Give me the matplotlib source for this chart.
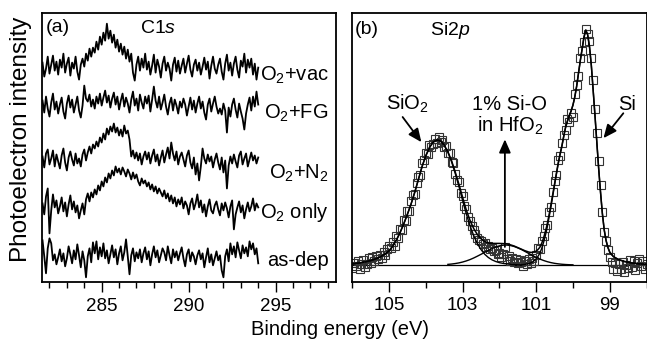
import matplotlib.pyplot as plt

plt.rcParams['font.family'] = ['Liberation Sans', 'DejaVu Sans']
plt.rcParams['mathtext.fontset'] = 'custom'
plt.rcParams['mathtext.rm'] = 'Liberation Sans'
plt.rcParams['mathtext.it'] = 'Liberation Sans:italic'

# ---- panel (a): C 1s spectra, binding energy in eV ----
c1s_energy = [
    281.6, 281.7, 281.8, 281.9, 282.0, 282.1, 282.2, 282.3, 282.4, 282.5,
    282.6, 282.7, 282.8, 282.9, 283.0, 283.1, 283.2, 283.3, 283.4, 283.5,
    283.6, 283.7, 283.8, 283.9, 284.0, 284.1, 284.2, 284.3, 284.4, 284.5,
    284.6, 284.7, 284.8, 284.9, 285.0, 285.1, 285.2, 285.3, 285.4, 285.5,
    285.6, 285.7, 285.8, 285.9, 286.0, 286.1, 286.2, 286.3, 286.4, 286.5,
    286.6, 286.7, 286.8, 286.9, 287.0, 287.1, 287.2, 287.3, 287.4, 287.5,
    287.6, 287.7, 287.8, 287.9, 288.0, 288.1, 288.2, 288.3, 288.4, 288.5,
    288.6, 288.7, 288.8, 288.9, 289.0, 289.1, 289.2, 289.3, 289.4, 289.5,
    289.6, 289.7, 289.8, 289.9, 290.0, 290.1, 290.2, 290.3, 290.4, 290.5,
    290.6, 290.7, 290.8, 290.9, 291.0, 291.1, 291.2, 291.3, 291.4, 291.5,
    291.6, 291.7, 291.8, 291.9, 292.0, 292.1, 292.2, 292.3, 292.4, 292.5,
    292.6, 292.7, 292.8, 292.9, 293.0, 293.1, 293.2, 293.3, 293.4, 293.5,
    293.6, 293.7, 293.8, 293.9, 294.0]

# intensities already offset for stacking (arb. units)
o2_vac = [
    22.0, 20.6, 21.4, 22.6, 20.9, 21.8, 22.7, 21.2, 22.1, 20.8,
    22.3, 21.5, 22.9, 21.0, 21.9, 22.5, 20.7, 22.0, 21.4, 22.6,
    21.1, 20.3, 21.8, 22.4, 21.6, 22.9, 22.2, 23.4, 22.6, 23.5,
    23.0, 24.1, 23.3, 24.6, 23.8, 25.0, 24.2, 25.9, 24.4, 25.2,
    24.0, 24.8, 23.5, 24.3, 23.1, 23.9, 22.8, 23.6, 22.4, 23.3,
    22.1, 22.9, 21.0, 20.2, 21.8, 22.6, 21.2, 22.4, 21.5, 22.9,
    21.3, 22.1, 20.8, 21.7, 22.8, 21.0, 22.3, 21.6, 20.5, 21.9,
    22.6, 21.2, 22.0, 21.4, 20.2, 21.8, 22.5, 21.1, 22.2, 20.9,
    21.7, 22.4, 21.0, 21.9, 22.7, 21.3, 20.6, 21.8, 22.3, 21.2,
    22.0, 20.8, 21.6, 22.5, 21.3, 22.1, 20.4, 21.7, 22.6, 21.4,
    20.9, 21.8, 22.4, 21.1, 20.3, 21.9, 22.8, 21.2, 22.0, 20.7,
    21.9, 22.6, 21.3, 20.5, 22.2, 21.6, 22.9, 21.0, 22.3, 21.5,
    22.4, 20.8, 21.9, 20.3, 21.5]
o2_fg = [
    18.2, 17.0, 18.6, 17.4, 16.6, 18.0, 18.9, 17.3, 18.1, 16.9,
    17.8, 18.5, 17.1, 16.4, 17.9, 18.7, 17.5, 18.3, 17.0, 17.8,
    18.6, 17.2, 16.5, 17.7, 19.7, 18.4, 18.1, 18.8, 17.6, 18.3,
    17.4, 18.6, 17.9, 18.9, 17.7, 18.5, 19.2, 18.0, 18.7, 17.5,
    18.4, 19.0, 17.8, 18.6, 17.3, 18.2, 18.9, 17.6, 18.5, 17.9,
    17.0, 18.3, 19.1, 17.7, 18.4, 17.2, 18.8, 18.0, 17.4, 18.6,
    17.9, 18.7, 17.1, 18.3, 19.6, 18.2, 17.5, 18.6, 17.3, 18.0,
    18.8, 17.6, 16.8, 17.9, 18.5, 17.2, 18.3, 17.7, 16.9, 18.1,
    17.5, 18.4, 17.8, 16.7, 17.6, 18.5, 17.3, 18.2, 17.0, 17.9,
    18.6, 17.4, 18.1, 17.0, 16.3, 17.8, 18.4, 17.1, 17.9, 18.6,
    17.6, 16.9, 17.4, 16.8, 17.9, 17.2, 15.0, 17.5, 16.6, 17.8,
    18.4, 17.3, 16.5, 17.9, 17.1, 16.4, 15.3, 16.9, 17.8, 18.5,
    17.2, 18.6, 17.6, 19.1, 17.8]
o2_n2 = [
    12.6, 11.5, 12.9, 13.3, 11.8, 12.4, 13.2, 11.6, 12.8, 12.1,
    11.4, 12.7, 13.4, 12.0, 11.2, 12.5, 13.1, 12.3, 11.7, 12.9,
    11.9, 12.4, 11.6, 12.8, 13.3, 12.2, 13.0, 13.6, 12.9, 13.8,
    13.4, 14.1, 13.6, 14.5, 14.0, 14.9, 14.3, 15.4, 14.8, 15.6,
    15.1, 15.9, 15.0, 15.5, 14.7, 15.3, 14.6, 15.7, 14.9, 15.2,
    14.3, 12.6, 13.2, 12.4, 13.0, 12.2, 12.9, 11.8, 12.6, 13.1,
    12.3, 13.0, 11.9, 12.7, 13.3, 12.1, 12.8, 11.7, 12.5, 13.2,
    12.0, 12.8, 13.5, 12.4, 14.0, 12.9, 12.2, 13.1, 11.8, 12.6,
    13.0, 12.3, 11.6, 12.7, 13.2, 12.0, 11.4, 12.5, 10.8, 11.9,
    10.2, 11.6, 13.4, 12.4, 11.9, 12.8, 12.1, 12.6, 11.5, 12.3,
    12.9, 12.0, 11.3, 12.5, 11.0, 12.2, 9.4, 11.7, 12.6, 11.9,
    12.8, 12.1, 11.5, 12.7, 13.1, 11.8, 12.4, 12.9, 11.6, 12.3,
    13.0, 12.2, 12.7, 11.9, 12.5]
o2_only = [
    7.9, 6.8, 8.6, 9.4, 4.9, 7.2, 8.8, 7.5, 8.2, 6.9,
    7.6, 8.5, 7.1, 8.0, 6.6, 7.8, 8.7, 7.3, 8.1, 7.0,
    7.7, 6.4, 7.2, 7.9, 6.8, 8.3, 8.9, 8.1, 9.0, 8.5,
    9.3, 8.8, 9.7, 9.2, 10.1, 9.6, 10.5, 10.0, 10.9, 10.4,
    11.2, 10.7, 11.6, 11.0, 11.4, 10.8, 11.5, 11.1, 10.6, 11.3,
    10.9, 10.3, 11.0, 10.4, 10.8, 10.1, 9.7, 10.4, 9.9, 10.2,
    9.6, 10.0, 9.3, 9.8, 9.1, 9.6, 8.9, 9.4, 9.0, 8.6,
    9.2, 8.4, 8.9, 8.1, 8.7, 7.9, 8.5, 7.6, 8.3, 7.8,
    8.5, 7.4, 8.1, 7.7, 6.8, 7.9, 8.4, 7.3, 7.9, 8.8,
    7.5, 8.2, 7.0, 7.8, 6.6, 7.6, 8.3, 7.2, 6.9, 7.7,
    8.1, 7.3, 6.7, 7.9, 7.2, 8.0, 7.4, 6.5, 7.6, 8.2,
    5.3, 6.8, 7.5, 8.1, 7.0, 7.7, 6.4, 7.3, 8.0, 7.1,
    7.6, 8.4, 7.2, 7.9, 7.5]
as_dep = [
    4.2, 2.6, 0.9, 3.4, 4.4, 3.9, 2.2, 2.8, 1.8, 2.5,
    3.3, 2.1, 2.9, 1.6, 2.4, 3.6, 2.8, 1.9, 3.2, 2.3,
    3.8, 2.7, 1.5, 3.1, 2.2, 0.5, 2.6, 3.4, 2.0, 4.0,
    2.9, 4.1, 2.3, 3.5, 2.6, 3.9, 2.4, 3.2, 1.9, 2.8,
    3.7, 2.5, 3.3, 1.8, 2.9, 3.6, 2.2, 3.0, 4.3, 2.6,
    0.8, 2.7, 3.4, 2.1, 3.0, 2.4, 3.3, 2.0, 2.9, 3.5,
    2.3, 3.1, 1.7, 2.8, 3.6, 2.5, 3.2, 2.0, 2.7, 3.4,
    3.0, 2.2, 3.6, 2.7, 1.9, 3.3, 2.5, 3.1, 2.2, 2.9,
    3.5, 2.4, 1.6, 2.8, 3.3, 2.1, 3.0, 2.6, 1.8, 2.7,
    3.2, 2.3, 2.9, 1.5, 2.5, 3.4, 2.0, 2.8, 1.7, 2.4,
    3.1, 2.2, 2.7, 1.2, 0.5, 2.6, 3.3, 2.1, 3.9, 2.8,
    3.6, 2.5, 4.0, 3.2, 2.4, 3.7, 2.9, 3.5, 2.6, 4.1,
    3.3, 3.9, 2.8, 3.4, 1.9]

c1s_traces = [o2_vac, o2_fg, o2_n2, o2_only, as_dep]
c1s_labels = ['O$_2$+vac', 'O$_2$+FG', 'O$_2$+N$_2$', 'O$_2$ only', 'as-dep']

# ---- panel (b): Si 2p spectrum, binding energy in eV ----
si2p_energy = [
    106.00, 105.95, 105.90, 105.85, 105.80, 105.75, 105.70, 105.65, 105.60, 105.55,
    105.50, 105.45, 105.40, 105.35, 105.30, 105.25, 105.20, 105.15, 105.10, 105.05,
    105.00, 104.95, 104.90, 104.85, 104.80, 104.75, 104.70, 104.65, 104.60, 104.55,
    104.50, 104.45, 104.40, 104.35, 104.30, 104.25, 104.20, 104.15, 104.10, 104.05,
    104.00, 103.95, 103.90, 103.85, 103.80, 103.75, 103.70, 103.65, 103.60, 103.55,
    103.50, 103.45, 103.40, 103.35, 103.30, 103.25, 103.20, 103.15, 103.10, 103.05,
    103.00, 102.95, 102.90, 102.85, 102.80, 102.75, 102.70, 102.65, 102.60, 102.55,
    102.50, 102.45, 102.40, 102.35, 102.30, 102.25, 102.20, 102.15, 102.10, 102.05,
    102.00, 101.95, 101.90, 101.85, 101.80, 101.75, 101.70, 101.65, 101.60, 101.55,
    101.50, 101.45, 101.40, 101.35, 101.30, 101.25, 101.20, 101.15, 101.10, 101.05,
    101.00, 100.95, 100.90, 100.85, 100.80, 100.75, 100.70, 100.65, 100.60, 100.55,
    100.50, 100.45, 100.40, 100.35, 100.30, 100.25, 100.20, 100.15, 100.10, 100.05,
    100.00, 99.95, 99.90, 99.85, 99.80, 99.75, 99.70, 99.65, 99.60, 99.55,
    99.50, 99.45, 99.40, 99.35, 99.30, 99.25, 99.20, 99.15, 99.10, 99.05,
    99.00, 98.95, 98.90, 98.85, 98.80, 98.75, 98.70, 98.65, 98.60, 98.55,
    98.50, 98.45, 98.40, 98.35, 98.30, 98.25, 98.20, 98.15, 98.10, 98.05,
    98.00]

si2p_data = [
    -1.2, 0.8, -0.5, 1.6, -1.8, 0.4, 2.2, -0.9, 0.6, 2.9,
    1.0, 3.3, 1.6, 3.9, 2.4, 4.2, 3.0, 5.6, 4.1, 6.9,
    8.2, 7.4, 9.6, 8.3, 12.4, 11.5, 15.2, 14.8, 19.0, 18.6,
    22.9, 23.1, 27.4, 29.6, 30.2, 35.0, 37.6, 38.5, 43.4, 44.9,
    47.8, 47.2, 50.9, 50.3, 51.6, 53.8, 52.0, 54.4, 52.5, 53.3,
    50.1, 50.8, 47.6, 47.5, 43.8, 43.3, 38.9, 36.1, 35.2, 30.7,
    29.4, 25.2, 23.9, 20.4, 18.6, 16.5, 14.8, 13.1, 11.7, 10.6,
    10.1, 8.9, 9.2, 7.8, 8.3, 6.9, 7.4, 5.8, 6.5, 4.6,
    5.3, 3.4, 4.8, 7.6, 2.7, 3.9, 1.8, 3.0, 1.2, 2.6,
    0.8, 2.2, 1.1, -0.6, 1.9, 0.4, 2.4, 0.9, 3.1, 1.5,
    4.3, 7.1, 6.8, 10.4, 12.5, 15.8, 17.0, 22.6, 24.8, 31.2,
    35.6, 38.3, 44.7, 46.4, 51.9, 55.4, 57.6, 62.3, 60.7, 64.8,
    62.9, 73.0, 76.7, 80.4, 88.2, 91.1, 95.0, 100.6, 98.4, 95.3,
    88.0, 78.6, 66.2, 56.4, 44.1, 34.2, 22.6, 14.1, 10.3, 6.4,
    3.6, 1.2, -1.6, 0.9, -2.4, 0.3, -1.7, 1.4, -2.8, 0.1,
    -1.2, 2.0, -0.8, 1.5, -2.1, 0.7, 2.4, -0.4, 1.8, -1.5,
    0.6]

si2p_fit_total = [
    0.5, 0.6, 0.7, 0.8, 0.9, 1.05, 1.2, 1.35, 1.5, 1.7,
    1.9, 2.15, 2.4, 2.7, 3.0, 3.4, 3.8, 4.3, 4.8, 5.4,
    6.0, 7.0, 8.0, 9.3, 10.6, 12.2, 13.8, 15.6, 17.5, 19.5,
    21.6, 23.8, 26.0, 28.5, 31.0, 33.7, 36.5, 39.2, 42.0, 44.3,
    46.5, 48.3, 50.0, 51.2, 52.3, 52.8, 53.2, 53.1, 52.8, 52.0,
    51.0, 49.6, 48.3, 46.4, 44.4, 42.0, 39.6, 37.0, 34.4, 31.6,
    28.8, 26.1, 23.5, 21.3, 19.1, 17.3, 15.6, 14.3, 13.0, 12.1,
    11.2, 10.6, 10.0, 9.7, 9.4, 9.3, 9.2, 9.2, 9.2, 9.2,
    9.2, 9.15, 9.1, 9.05, 9.0, 8.8, 8.6, 8.35, 8.1, 7.75,
    7.4, 7.05, 6.7, 6.4, 6.05, 5.8, 5.5, 5.4, 5.35, 5.6,
    5.9, 6.6, 7.55, 9.2, 11.4, 14.2, 17.4, 21.3, 25.5, 30.0,
    34.7, 39.1, 43.5, 47.3, 50.8, 54.9, 58.7, 61.3, 63.6, 65.6,
    68.1, 71.5, 76.0, 81.5, 87.0, 92.0, 97.0, 100.0, 98.0, 93.0,
    85.0, 74.5, 63.5, 52.0, 41.0, 31.0, 22.0, 15.0, 10.5, 7.5,
    5.5, 4.5, 3.6, 3.1, 2.7, 2.3, 2.0, 1.75, 1.5, 1.35,
    1.2, 1.05, 0.9, 0.8, 0.7, 0.6, 0.5, 0.45, 0.4, 0.35,
    0.3]

# SiO2 component, 106.0 -> 101.4 eV every 0.1 eV
fit_sio2 = [
    0.5, 0.7, 0.9, 1.2, 1.5, 1.9, 2.4, 3.0, 3.8, 4.8,
    6.0, 8.0, 10.6, 13.8, 17.5, 21.6, 26.0, 31.0, 36.5, 42.0,
    46.5, 50.0, 52.3, 53.2, 52.8, 51.0, 48.0, 44.0, 39.0, 33.5,
    27.5, 21.8, 16.8, 12.6, 9.2, 6.6, 4.6, 3.2, 2.2, 1.5,
    1.0, 0.7, 0.5, 0.3, 0.2, 0.1, 0.0]

# Si-O in HfO2 component, 103.4 -> 100.0 eV every 0.1 eV
fit_sio_hfo2 = [
    0.27, 0.42, 0.63, 0.9, 1.27, 1.74, 2.3, 2.98, 3.75, 4.55,
    5.4, 6.2, 7.0, 7.66, 8.16, 8.44, 8.49, 8.3, 7.9, 7.3,
    6.6, 5.75, 4.9, 4.05, 3.26, 2.55, 1.94, 1.43, 1.03, 0.72,
    0.5, 0.33, 0.21, 0.13, 0.08]

# Si substrate component, 101.4 -> 98.0 eV every 0.05 eV
fit_si = [
    0.1, 0.2, 0.3, 0.45, 0.6, 0.9, 1.3, 1.9, 2.6, 3.7,
    5.0, 7.0, 9.5, 12.5, 16.0, 20.2, 24.5, 29.2, 34.0, 38.6,
    43.0, 46.9, 50.5, 54.7, 58.5, 61.2, 63.5, 65.5, 68.0, 71.5,
    76.0, 81.5, 87.0, 92.0, 97.0, 100.0, 98.0, 93.0, 85.0, 74.5,
    63.5, 52.0, 41.0, 31.0, 22.0, 15.0, 10.5, 7.5, 5.5, 4.5,
    3.6, 3.1, 2.7, 2.3, 2.0, 1.75, 1.5, 1.35, 1.2, 1.05,
    0.9, 0.8, 0.7, 0.6, 0.5, 0.45, 0.4, 0.35, 0.3]


W, H = 647.0, 341.0
fig = plt.figure(figsize=(W / 100, H / 100), dpi=100)

ax1 = fig.add_axes([42 / W, (H - 282.3) / H, (336 - 42) / W, (282.3 - 12.7) / H])
ax2 = fig.add_axes([351.5 / W, (H - 281.7) / H, (646.5 - 351.5) / W, (281.7 - 12.7) / H])

# panel (a)
for trace in c1s_traces:
    ax1.plot(c1s_energy, trace, color='k', lw=1.3)

label_y = [20.2, 16.4, 10.4, 6.4, 1.6]
for lab, y in zip(c1s_labels, label_y):
    ax1.text(298.05, y, lab, ha='right', va='baseline', fontsize=14.5)

ax1.text(0.014, 0.93, '(a)', transform=ax1.transAxes, fontsize=14, va='baseline')
ax1.text(0.333, 0.924, r'C$\mathit{1s}$', transform=ax1.transAxes, fontsize=14, va='baseline')

ax1.set_xlim(281.57, 298.47)
ax1.set_ylim(0, 27)
ax1.set_xticks([285, 290, 295])
ax1.set_xticks(list(range(282, 299)), minor=True)
ax1.set_yticks([])

# panel (b)
ax2.axhline(0, color='k', lw=0.9, zorder=1)
ax2.plot(si2p_energy, si2p_data, 's', ms=6, mfc='none', mec='#333333', mew=0.8, zorder=2)
ax2.plot(si2p_energy[0:93:2], fit_sio2, color='k', lw=1.0, zorder=3)
ax2.plot(si2p_energy[52:121:2], fit_sio_hfo2, color='k', lw=1.0, zorder=3)
ax2.plot(si2p_energy[92:], fit_si, color='k', lw=1.0, zorder=3)
ax2.plot(si2p_energy, si2p_fit_total, color='k', lw=1.1, zorder=3)

arrow = dict(arrowstyle='-|>,head_length=0.5,head_width=0.22', color='k', lw=1.3,
             mutation_scale=16, shrinkA=0, shrinkB=0)
ax2.annotate('', xy=(104.12, 52.3), xytext=(104.63, 63.0), arrowprops=arrow)
ax2.annotate('', xy=(101.85, 53.5), xytext=(101.85, 7.7), arrowprops=arrow)
ax2.annotate('', xy=(99.17, 54.0), xytext=(98.63, 64.6), arrowprops=arrow)

ax2.text(0.012, 0.921, '(b)', transform=ax2.transAxes, fontsize=14, va='baseline')
ax2.text(0.266, 0.917, r'Si2$\mathit{p}$', transform=ax2.transAxes, fontsize=14, va='baseline')
ax2.text(0.117, 0.639, 'SiO$_2$', transform=ax2.transAxes, fontsize=14.5, va='baseline')
ax2.text(0.537, 0.639, '1% Si-O', transform=ax2.transAxes, fontsize=14.5, va='baseline', ha='center')
ax2.text(0.537, 0.557, 'in HfO$_2$', transform=ax2.transAxes, fontsize=14.5, va='baseline', ha='center')
ax2.text(0.903, 0.639, 'Si', transform=ax2.transAxes, fontsize=14.5, va='baseline')

ax2.set_xlim(106.02, 98.05)
ax2.set_ylim(-7.1, 107.4)
ax2.set_xticks([105, 103, 101, 99])
ax2.set_xticks([106, 104, 102, 100, 98], minor=True)
ax2.set_yticks([])

for ax in (ax1, ax2):
    for sp in ax.spines.values():
        sp.set_linewidth(1.3)
    ax.tick_params(axis='x', which='major', direction='out', length=7, width=1.0,
                   labelsize=13.5, pad=4)
    ax.tick_params(axis='x', which='minor', direction='out', length=4, width=1.0)

fig.text(21 / W, 1 - 139 / H, 'Photoelectron intensity', rotation=90,
         ha='center', va='center', fontsize=17.5)
fig.text(340 / W, (H - 335) / H, 'Binding energy (eV)', ha='center', va='baseline',
         fontsize=14.5)

fig.savefig('out.png', dpi=100)
